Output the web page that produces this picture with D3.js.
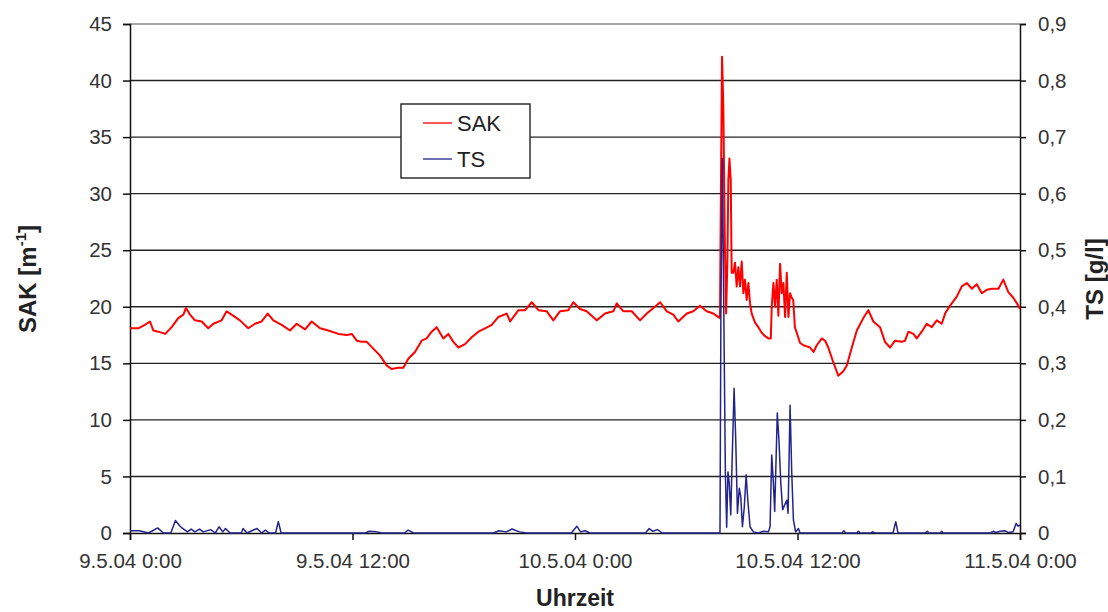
<!DOCTYPE html>
<html lang="de">
<head>
<meta charset="utf-8">
<script src="https://d3js.org/d3.v7.min.js"></script>
<style>
  body { margin:0; background:#fff; }
  text { font-family: "Liberation Sans", Arial, sans-serif; }
</style>
</head>
<body>
<script>
// hours since 9.5.04 0:00, SAK [m-1]
var sakHours = [0,0.45,0.8,1.08,1.26,1.53,1.9,2.25,2.6,2.88,3.02,3.24,3.5,3.87,4.22,4.5,4.94,5.21,5.48,5.93,
  6.38,6.74,7.1,7.43,7.73,8.18,8.63,8.99,9.44,9.8,10.25,10.7,11.24,11.69,11.96,12.23,12.5,12.77,13.12,13.48,
  13.85,14.11,14.47,14.74,15.01,15.37,15.73,16.0,16.27,16.54,16.9,17.17,17.44,17.71,18.07,18.43,18.79,19.15,19.51,19.87,
  20.32,20.5,20.95,21.31,21.67,22.03,22.48,22.83,23.19,23.64,23.91,24.27,24.63,25.17,25.62,26.07,26.25,26.61,27.06,27.51,
  27.87,28.23,28.59,28.95,29.3,29.57,30.03,30.38,30.74,31.1,31.46,31.82,
  31.86,31.93,32.0,32.08,32.15,32.22,32.27,32.33,32.4,32.45,32.54,32.63,32.72,32.81,32.9,32.99,33.08,33.17,33.26,33.35,
  33.44,33.53,33.71,33.89,34.07,34.25,34.43,34.56,34.61,34.7,34.79,34.88,34.97,35.06,35.15,35.24,35.33,35.42,35.51,35.6,
  35.69,35.77,35.86,35.96,36.14,36.32,36.5,36.68,36.86,37.04,37.31,37.49,37.66,37.93,38.2,38.47,38.66,38.93,39.2,39.55,
  39.82,40.09,40.45,40.72,40.99,41.26,41.62,41.8,41.98,42.25,42.43,42.7,42.97,43.24,43.51,43.78,43.96,44.23,44.59,44.86,
  45.13,45.4,45.67,45.94,46.21,46.49,46.84,47.1,47.37,47.64,47.91,48];
var sakValues = [18.1,18.1,18.4,18.7,17.9,17.8,17.6,18.2,19.0,19.3,19.9,19.3,18.8,18.7,18.1,18.5,18.8,19.6,19.3,18.8,
  18.1,18.5,18.7,19.4,18.8,18.4,17.9,18.5,18.0,18.7,18.1,17.9,17.6,17.5,17.6,17.0,16.9,16.9,16.3,15.7,
  14.8,14.5,14.6,14.6,15.4,16.0,17.0,17.2,17.8,18.2,17.2,17.6,16.9,16.4,16.7,17.3,17.8,18.1,18.4,19.1,
  19.4,18.7,19.7,19.7,20.4,19.7,19.6,18.8,19.6,19.7,20.4,19.8,19.6,18.8,19.4,19.6,20.3,19.6,19.6,18.8,
  19.4,19.9,20.4,19.6,19.3,18.7,19.4,19.6,20.1,19.6,19.4,19.0,
  28.3,42.1,37.7,25.9,19.4,24.1,31.2,33.1,31.2,23.0,23.0,23.9,21.8,23.5,21.8,24.0,21.2,22.4,20.6,22.1,
  20.3,19.4,18.6,18.2,17.7,17.4,17.2,17.2,20.0,22.1,20.0,22.4,19.2,23.8,21.2,22.1,19.1,23.0,19.1,21.2,
  20.8,20.6,18.2,17.7,16.8,16.6,16.5,16.4,16.0,16.6,17.2,17.0,16.4,15.1,13.9,14.3,14.8,16.4,17.9,19.0,
  19.7,18.7,18.2,16.9,16.4,17.0,16.9,17.0,17.8,17.6,17.2,17.8,18.5,18.2,18.8,18.5,19.4,20.1,20.9,21.8,
  22.1,21.6,22.0,21.2,21.5,21.6,21.6,22.4,21.3,20.8,20.1,19.8];

// hours since 9.5.04 0:00, TS [g/l]
var tsHours = [0,0.5,1.0,1.49,1.8,2.2,2.45,2.7,2.84,3.1,3.3,3.5,3.75,3.95,4.35,4.6,4.8,5.0,5.15,5.4,
  6.0,6.1,6.3,6.85,7.1,7.3,7.5,7.85,8.0,8.15,12.7,12.9,13.3,13.6,14.8,15.0,15.3,19.6,19.9,20.3,
  20.6,21.0,21.4,23.8,24.1,24.3,24.55,24.8,27.8,28.0,28.2,28.45,28.7,31.8,
  31.82,31.87,31.95,32.04,32.11,32.18,32.25,32.32,32.4,32.48,32.58,32.67,32.76,32.86,32.94,33.03,33.13,33.23,33.32,33.44,
  33.62,33.89,34.16,34.43,34.52,34.61,34.7,34.77,34.91,35.0,35.1,35.2,35.31,35.42,35.49,35.6,35.69,35.78,35.9,36.05,
  36.14,38.4,38.5,38.6,39.2,39.28,39.4,39.95,40.05,40.2,41.15,41.3,41.42,42.88,43.0,43.1,43.7,43.78,43.85,46.4,
  46.55,46.7,46.93,47.17,47.36,47.63,47.79,47.9,48];
var tsValues = [0.004,0.004,0,0.009,0,0,0.022,0.012,0.008,0.002,0.007,0.002,0.007,0.002,0.006,0,0.011,0.002,0.008,0,
  0,0.008,0,0.008,0,0.005,0,0,0.02,0,0,0.003,0.002,0,0,0.005,0,0,0.004,0.002,
  0.007,0.002,0,0,0.012,0.002,0.004,0,0,0.008,0.003,0.006,0,0,
  0.002,0.40,0.662,0.34,0.106,0.01,0.108,0.088,0.032,0.135,0.256,0.164,0.035,0.079,0.064,0.011,0.046,0.103,0.058,0.011,
  0.002,0,0.003,0.002,0.011,0.138,0.088,0.038,0.212,0.164,0.088,0.041,0.05,0.058,0.035,0.226,0.106,0.023,0.002,0.008,
  0,0,0.004,0,0,0.003,0,0,0.002,0,0,0.02,0,0,0.003,0,0,0.003,0,0,
  0.003,0.001,0.003,0.004,0.001,0.002,0.017,0.012,0.014];

var sakTicks = [0,5,10,15,20,25,30,35,40,45];
var tsTicks = [0,0.1,0.2,0.3,0.4,0.5,0.6,0.7,0.8,0.9];
var timeTicks = [0,12,24,36,48];

var w = 1108, h = 612;
var mLeft = 130, mRight = 1020, mTop = 24, mBottom = 533;
var start = new Date(2004, 4, 9, 0, 0);
function toDate(hr){ return new Date(start.getTime() + hr * 3600000); }

var svg = d3.select("body").append("svg").attr("width", w).attr("height", h);

var x = d3.scaleTime().domain([start, toDate(48)]).range([mLeft, mRight]);
var ySak = d3.scaleLinear().domain([0, 45]).range([mBottom, mTop]);
var yTs = d3.scaleLinear().domain([0, 0.9]).range([mBottom, mTop]);

// gridlines
svg.append("g").selectAll("line").data(sakTicks.filter(function(d){ return d > 0; }))
  .enter().append("line")
  .attr("x1", mLeft).attr("x2", mRight)
  .attr("y1", function(d){ return ySak(d); }).attr("y2", function(d){ return ySak(d); })
  .attr("stroke", function(d){ return d == 45 ? "#888" : "#222"; })
  .attr("stroke-width", 1.4);

// axes
var fmtTime = d3.timeFormat("%-d.%-m.%y %-H:%M");
var gx = svg.append("g").attr("transform", "translate(0," + mBottom + ")")
  .call(d3.axisBottom(x).tickValues(timeTicks.map(toDate)).tickFormat(fmtTime).tickSize(7).tickPadding(13));
var gl = svg.append("g").attr("transform", "translate(" + mLeft + ",0)")
  .call(d3.axisLeft(ySak).tickValues(sakTicks).tickSize(7).tickPadding(11));
var gr = svg.append("g").attr("transform", "translate(" + mRight + ",0)")
  .call(d3.axisRight(yTs).tickValues(tsTicks).tickSize(6).tickPadding(12)
    .tickFormat(function(d){ return d == 0 ? "0" : d3.format(".1f")(d).replace(".", ","); }));

[gx, gl, gr].forEach(function(g){
  g.attr("font-size", null).attr("font-family", null);
  g.selectAll("path").attr("stroke", "#111").attr("stroke-width", 1.5);
  g.selectAll("line").attr("stroke", "#111").attr("stroke-width", 1.5);
  g.selectAll("text").attr("fill", "#333").style("font-size", "20.5px");
});

// series
var sakLine = d3.line().x(function(d){ return x(toDate(d[0])); }).y(function(d){ return ySak(d[1]); });
var tsLine = d3.line().x(function(d){ return x(toDate(d[0])); }).y(function(d){ return yTs(d[1]); });

svg.append("path").datum(d3.zip(sakHours, sakValues))
  .attr("d", sakLine).attr("fill", "none").attr("stroke", "#ff0000").attr("stroke-width", 2)
  .attr("stroke-linejoin", "round");
svg.append("path").datum(d3.zip(tsHours, tsValues))
  .attr("d", tsLine).attr("fill", "none").attr("stroke", "#23238c").attr("stroke-width", 1.5)
  .attr("stroke-linejoin", "round");

// legend
var lg = svg.append("g");
lg.append("rect").attr("x", 401).attr("y", 104).attr("width", 129).attr("height", 74)
  .attr("fill", "#fff").attr("stroke", "#222").attr("stroke-width", 1.4);
var legendItems = [["SAK", "#ff0000", 123], ["TS", "#23238c", 159]];
legendItems.forEach(function(it){
  lg.append("line").attr("x1", 423).attr("x2", 452).attr("y1", it[2]).attr("y2", it[2])
    .attr("stroke", it[1]).attr("stroke-width", 1.3);
  lg.append("text").attr("x", 457).attr("y", it[2] + 8).text(it[0])
    .attr("fill", "#222").style("font-size", "22px");
});

// axis titles
svg.append("text").attr("x", 575).attr("y", 606).attr("text-anchor", "middle")
  .style("font-weight", "bold").style("font-size", "23px").attr("fill", "#222").text("Uhrzeit");

var tl = svg.append("text").attr("transform", "translate(36,279) rotate(-90)").attr("text-anchor", "middle")
  .style("font-weight", "bold").style("font-size", "24px").attr("fill", "#222");
tl.append("tspan").text("SAK [m");
tl.append("tspan").text("-1").attr("dy", -10).style("font-size", "15px");
tl.append("tspan").text("]").attr("dy", 10);

svg.append("text").attr("transform", "translate(1103,279) rotate(-90)").attr("text-anchor", "middle")
  .style("font-weight", "bold").style("font-size", "24px").attr("fill", "#222").text("TS [g/l]");
</script>
</body>
</html>
